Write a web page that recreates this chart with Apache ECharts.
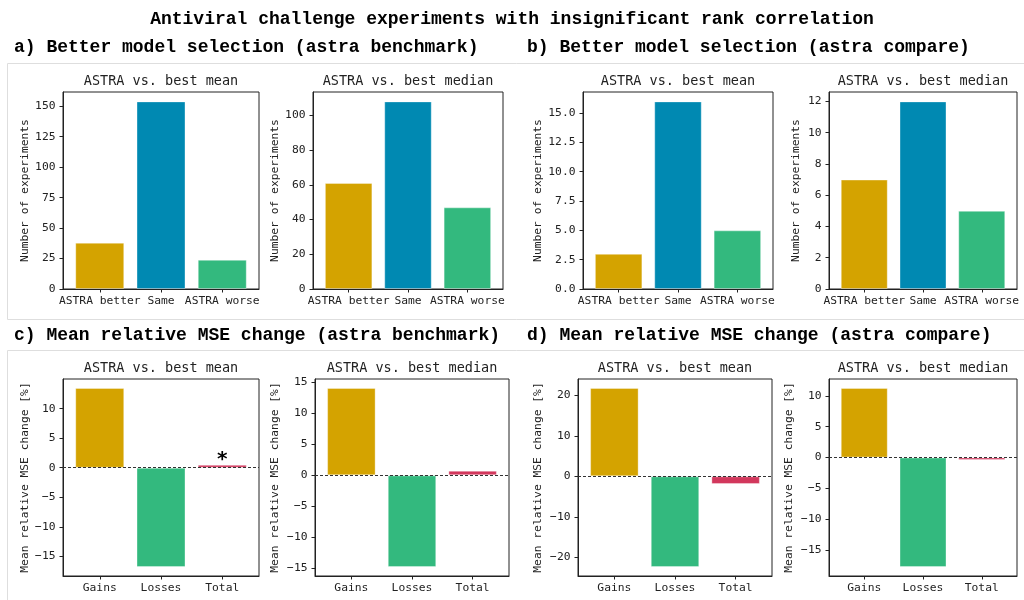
<!DOCTYPE html>
<html>
<head>
<meta charset="utf-8">
<script src="https://cdn.jsdelivr.net/npm/echarts@6/dist/echarts.min.js"></script>
<style>
  html, body { margin: 0; padding: 0; background: #fff; }
  #chart { width: 1024px; height: 600px; }
</style>
</head>
<body>
<div id="chart"></div>
<script>
// ---- Text ----
const FIG_TITLE = 'Antiviral challenge experiments with insignificant rank correlation';
const SECTION_TITLES = [
  'a) Better model selection (astra benchmark)',
  'b) Better model selection (astra compare)',
  'c) Mean relative MSE change (astra benchmark)',
  'd) Mean relative MSE change (astra compare)'
];
const PANEL_TITLES = ['ASTRA vs. best mean', 'ASTRA vs. best median'];
const Y_NAME_COUNT = 'Number of experiments';
const Y_NAME_MSE = 'Mean relative MSE change [%]';

// ---- Categories ----
const CATS_SELECTION = ['ASTRA better', 'Same', 'ASTRA worse'];
const CATS_CHANGE = ['Gains', 'Losses', 'Total'];

// ---- Values: number of experiments ----
const BENCH_COUNT_MEAN = [38, 154, 24];
const BENCH_COUNT_MEDIAN = [61, 108, 47];
const COMPARE_COUNT_MEAN = [3, 16, 5];
const COMPARE_COUNT_MEDIAN = [7, 12, 5];

// ---- Values: mean relative MSE change [%] ----
const BENCH_MSE_MEAN = [13.5, -16.8, 0.5];
const BENCH_MSE_MEDIAN = [14.1, -14.8, 0.75];
const COMPARE_MSE_MEAN = [21.8, -22.4, -1.9];
const COMPARE_MSE_MEDIAN = [11.3, -17.8, -0.4];

// significance marker shown above a bar
const BENCH_MSE_MEAN_MARKS = ['', '', '*'];

// ---- Tick values ----
const TICKS_BENCH_COUNT_MEAN = [0, 25, 50, 75, 100, 125, 150];
const TICKS_BENCH_COUNT_MEDIAN = [0, 20, 40, 60, 80, 100];
const TICKS_COMPARE_COUNT_MEAN = [0, 2.5, 5, 7.5, 10, 12.5, 15];
const TICKS_COMPARE_COUNT_MEDIAN = [0, 2, 4, 6, 8, 10, 12];
const TICKS_BENCH_MSE_MEAN = [-15, -10, -5, 0, 5, 10];
const TICKS_BENCH_MSE_MEDIAN = [-15, -10, -5, 0, 5, 10, 15];
const TICKS_COMPARE_MSE_MEAN = [-20, -10, 0, 10, 20];
const TICKS_COMPARE_MSE_MEDIAN = [-15, -10, -5, 0, 5, 10];

// ---- Colours ----
const COLORS_SELECTION = ['#D4A300', '#0089B2', '#33B97E'];
const COLORS_CHANGE = ['#D4A300', '#33B97E', '#D2375C'];

const MONO = '"DejaVu Sans Mono", monospace';
const HEAD = '"Liberation Mono", "DejaVu Sans Mono", monospace';
const INK = '#222';
const TICK_FONT = 11.3;

// panel layout: plotting rectangle of each subplot
const panels = [
  { rect: [63, 92, 196, 197], title: PANEL_TITLES[0], cats: CATS_SELECTION, values: BENCH_COUNT_MEAN, ticks: TICKS_BENCH_COUNT_MEAN, colors: COLORS_SELECTION, yName: Y_NAME_COUNT, nameGap: 32, decimals: 0, zero: false },
  { rect: [313, 92, 190, 197], title: PANEL_TITLES[1], cats: CATS_SELECTION, values: BENCH_COUNT_MEDIAN, ticks: TICKS_BENCH_COUNT_MEDIAN, colors: COLORS_SELECTION, yName: Y_NAME_COUNT, nameGap: 32, decimals: 0, zero: false },
  { rect: [583, 92, 190, 197], title: PANEL_TITLES[0], cats: CATS_SELECTION, values: COMPARE_COUNT_MEAN, ticks: TICKS_COMPARE_COUNT_MEAN, colors: COLORS_SELECTION, yName: Y_NAME_COUNT, nameGap: 39, decimals: 1, zero: false },
  { rect: [829, 92, 188, 197], title: PANEL_TITLES[1], cats: CATS_SELECTION, values: COMPARE_COUNT_MEDIAN, ticks: TICKS_COMPARE_COUNT_MEDIAN, colors: COLORS_SELECTION, yName: Y_NAME_COUNT, nameGap: 27, decimals: 0, zero: false },
  { rect: [63, 379, 196, 197], title: PANEL_TITLES[0], cats: CATS_CHANGE, values: BENCH_MSE_MEAN, ticks: TICKS_BENCH_MSE_MEAN, colors: COLORS_CHANGE, yName: Y_NAME_MSE, nameGap: 32, decimals: 0, zero: true, marks: BENCH_MSE_MEAN_MARKS },
  { rect: [315, 379, 194, 197], title: PANEL_TITLES[1], cats: CATS_CHANGE, values: BENCH_MSE_MEDIAN, ticks: TICKS_BENCH_MSE_MEDIAN, colors: COLORS_CHANGE, yName: Y_NAME_MSE, nameGap: 34, decimals: 0, zero: true },
  { rect: [578, 379, 194, 197], title: PANEL_TITLES[0], cats: CATS_CHANGE, values: COMPARE_MSE_MEAN, ticks: TICKS_COMPARE_MSE_MEAN, colors: COLORS_CHANGE, yName: Y_NAME_MSE, nameGap: 34, decimals: 0, zero: true },
  { rect: [829, 379, 188, 197], title: PANEL_TITLES[1], cats: CATS_CHANGE, values: COMPARE_MSE_MEDIAN, ticks: TICKS_COMPARE_MSE_MEDIAN, colors: COLORS_CHANGE, yName: Y_NAME_MSE, nameGap: 34, decimals: 0, zero: true }
];

// axis extent with a 5% margin; bars stick to zero
function extent(values) {
  const lo = Math.min(0, ...values), hi = Math.max(0, ...values);
  const span = hi - lo;
  return [lo < 0 ? lo - 0.05 * span : 0, hi > 0 ? hi + 0.05 * span : 0];
}

function fmtNum(v, d) {
  return v.toFixed(d).replace('-', '\u2212');
}

const headStyle = { fontFamily: HEAD, fontWeight: 'bold', fontSize: 18, color: '#000' };
const grids = [], xAxes = [], yAxes = [], series = [];
const titles = [
  { text: FIG_TITLE, left: 'center', top: 10, padding: 0, textStyle: headStyle },
  { text: SECTION_TITLES[0], left: 14, top: 38, padding: 0, textStyle: headStyle },
  { text: SECTION_TITLES[1], left: 527, top: 38, padding: 0, textStyle: headStyle },
  { text: SECTION_TITLES[2], left: 14, top: 326, padding: 0, textStyle: headStyle },
  { text: SECTION_TITLES[3], left: 527, top: 326, padding: 0, textStyle: headStyle }
];

panels.forEach((p, i) => {
  const [left, top, width, height] = p.rect;
  grids.push({ left, top, width, height, show: true, borderColor: INK, borderWidth: 1, backgroundColor: 'transparent', containLabel: false });

  titles.push({ text: p.title, left: left + width / 2, top: top - 18, textAlign: 'center', padding: 0,
    textStyle: { fontFamily: MONO, fontWeight: 'normal', fontSize: 13.5, color: INK } });

  const xTicks = p.cats.map((_, k) => k);
  xAxes.push({
    type: 'value', gridIndex: i, min: -0.6, max: 2.6,
    splitLine: { show: false },
    axisLine: { show: true, onZero: false, lineStyle: { color: INK, width: 1 } },
    axisTick: { show: true, length: 3.5, customValues: xTicks, lineStyle: { color: INK } },
    axisLabel: { customValues: xTicks, hideOverlap: false, margin: 6.5,
      formatter: v => p.cats[Math.round(v)] ?? '',
      fontFamily: MONO, fontSize: TICK_FONT, color: INK }
  });

  const [ymin, ymax] = extent(p.values);
  yAxes.push({
    type: 'value', gridIndex: i, min: ymin, max: ymax,
    splitLine: { show: false },
    name: p.yName, nameLocation: 'middle', nameGap: p.nameGap,
    nameTextStyle: { fontFamily: MONO, fontSize: TICK_FONT, color: INK },
    axisLine: { show: true, onZero: false, lineStyle: { color: INK, width: 1 } },
    axisTick: { show: true, length: 3.5, customValues: p.ticks, lineStyle: { color: INK } },
    axisLabel: { customValues: p.ticks, margin: 7.5, formatter: v => fmtNum(v, p.decimals),
      fontFamily: MONO, fontSize: TICK_FONT, color: INK }
  });

  const s = {
    type: 'bar', xAxisIndex: i, yAxisIndex: i,
    barWidth: width * 0.8 / 3.2,
    data: p.values.map((v, k) => ({
      value: [k, v],
      itemStyle: { color: p.colors[k], borderColor: 'rgba(255,255,255,0.35)', borderWidth: 1 },
      label: (p.marks && p.marks[k]) ? {
        show: true, position: 'top', distance: -5, formatter: p.marks[k],
        fontFamily: MONO, fontSize: 20, fontWeight: 'bold', color: '#000'
      } : { show: false }
    }))
  };
  if (p.zero) {
    s.markLine = {
      silent: true, symbol: ['none', 'none'], label: { show: false },
      lineStyle: { type: [3, 2], color: '#333', width: 1 },
      data: [{ yAxis: 0 }]
    };
  }
  series.push(s);
});

const chart = echarts.init(document.getElementById('chart'), null, { renderer: 'canvas' });
chart.setOption({
  animation: false,
  backgroundColor: '#fff',
  title: titles,
  grid: grids,
  xAxis: xAxes,
  yAxis: yAxes,
  series: series,
  graphic: [
    { type: 'rect', shape: { x: 7.5, y: 63.5, width: 1030, height: 256 }, style: { fill: 'none', stroke: '#dedede', lineWidth: 1 }, silent: true, z: -10 },
    { type: 'rect', shape: { x: 7.5, y: 350.5, width: 1030, height: 260 }, style: { fill: 'none', stroke: '#dedede', lineWidth: 1 }, silent: true, z: -10 }
  ]
});
</script>
</body>
</html>
